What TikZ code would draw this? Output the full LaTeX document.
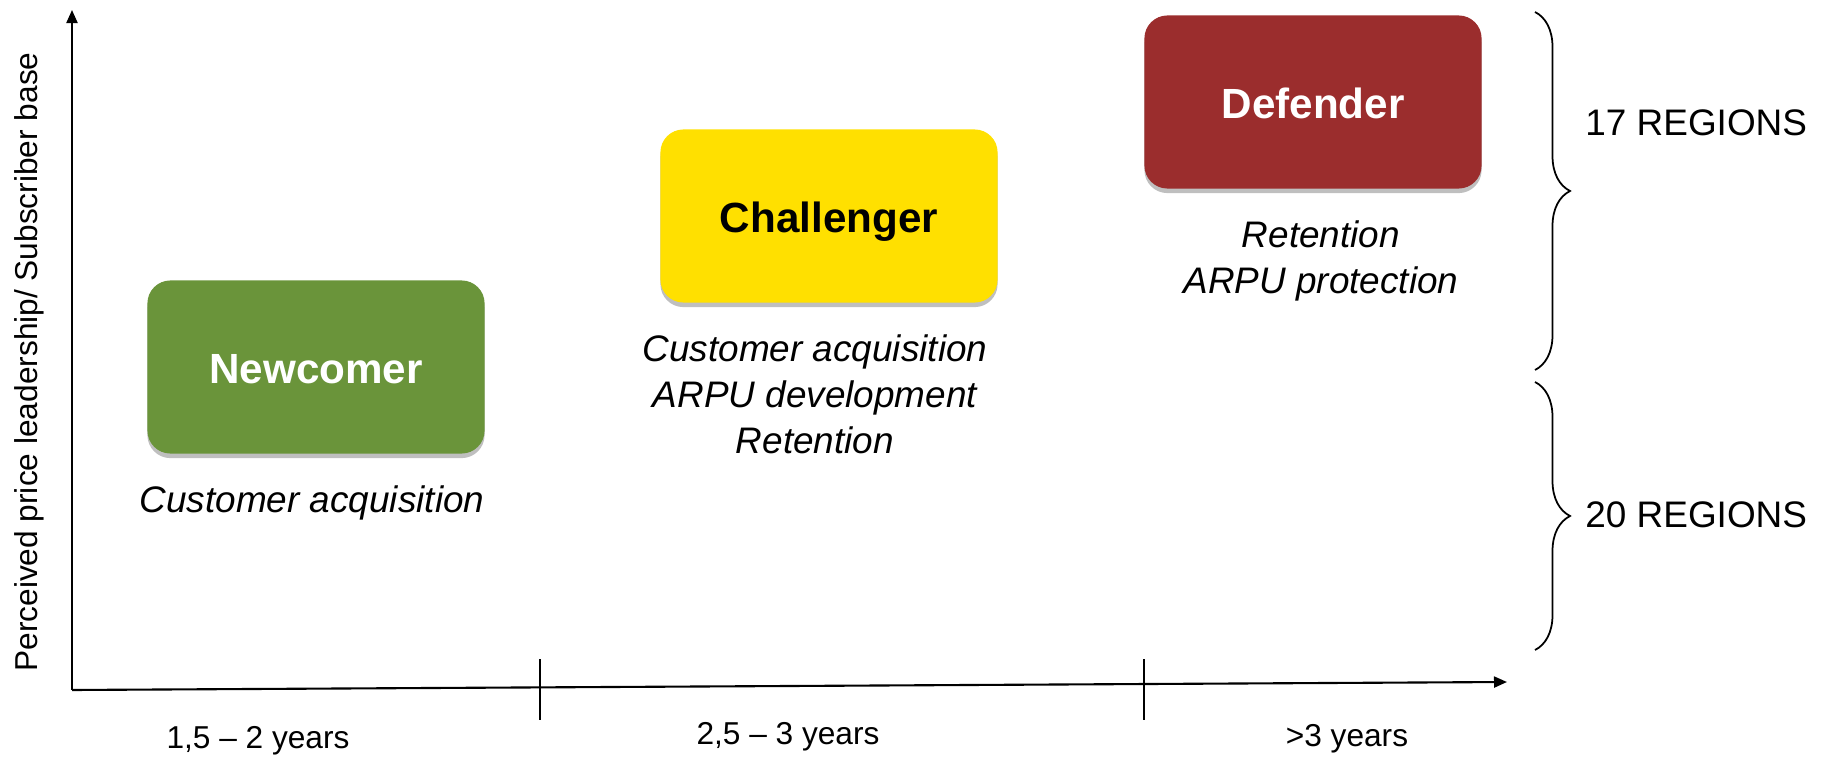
\documentclass[tikz,border=0pt]{standalone}
\usepackage{fontspec}
\setmainfont{Liberation Sans}
\usepackage{tikz}
\usetikzlibrary{arrows.meta, decorations.pathreplacing, shadows}

\definecolor{newgreen}{RGB}{106,148,58}
\definecolor{chalyellow}{RGB}{255,224,0}
\definecolor{defred}{RGB}{155,45,45}

\begin{document}
\begin{tikzpicture}[x=0.01cm, y=-0.01cm, font=\fontsize{10.5}{13}\selectfont,
  seg/.style={rounded corners=0.23cm, minimum width=3.37cm, minimum height=1.73cm,
              font=\fontsize{12}{14}\selectfont\bfseries, text=white, inner sep=0pt,
              text height=0.95em, text depth=0pt,
              drop shadow={shadow xshift=0pt, shadow yshift=-1.3pt, fill=black!25, opacity=1}},
  goal/.style={align=center, font=\fontsize{10.5}{13.1}\selectfont\itshape},
  axis/.style={line width=0.6pt, -{Triangle[length=0.13cm, width=0.11cm]}},
  tick/.style={line width=0.6pt},
  yr/.style={font=\fontsize{9}{11}\selectfont},
  bra/.style={decorate, decoration={brace, amplitude=0.35cm}, line width=0.5pt},
  reg/.style={anchor=west, font=\fontsize{10.5}{13}\selectfont}
]
\useasboundingbox (0,0) rectangle (1830,758);

\coordinate (origin) at (72,690);
\coordinate (ytop)   at (72,10);
\coordinate (xend)   at (1507,682);
\draw[axis] (origin) -- (ytop);
\draw[axis] (origin) -- (xend);

\coordinate (t1a) at (540,659);  \coordinate (t1b) at (540,720);
\coordinate (t2a) at (1144,659); \coordinate (t2b) at (1144,720);
\foreach \t in {t1, t2} \draw[tick] (\t a) -- (\t b);

\node[rotate=90, yr] (ylab) at (29,362) {Perceived price leadership/ Subscriber base};

\node[yr] (y1) at (258,741)  {1,5 -- 2 years};
\node[yr] (y2) at (788,737)  {2,5 -- 3 years};
\node[yr] (y3) at (1347,739) {>3 years};

\node[seg, fill=newgreen] (newc) at (316,367) {Newcomer};
\node[seg, fill=chalyellow, text=black] (chal) at (829,216) {Challenger};
\node[seg, fill=defred] (defd) at (1313,102) {Defender};

\node[goal] (g1) at (312,503) {Customer acquisition};
\node[goal] (g2) at (815,394) {Customer acquisition\\ARPU development\\Retention};
\node[goal] (g3) at (1321,261) {Retention\\ARPU protection};

\coordinate (b1a) at (1535,12);  \coordinate (b1b) at (1535,370);
\coordinate (b2a) at (1535,382); \coordinate (b2b) at (1535,650);
\draw[bra] (b1a) -- (b1b);
\draw[bra] (b2a) -- (b2b);

\node[reg] (r17) at (1573,123) {17 REGIONS};
\node[reg] (r20) at (1573,515) {20 REGIONS};
\end{tikzpicture}
\end{document}
